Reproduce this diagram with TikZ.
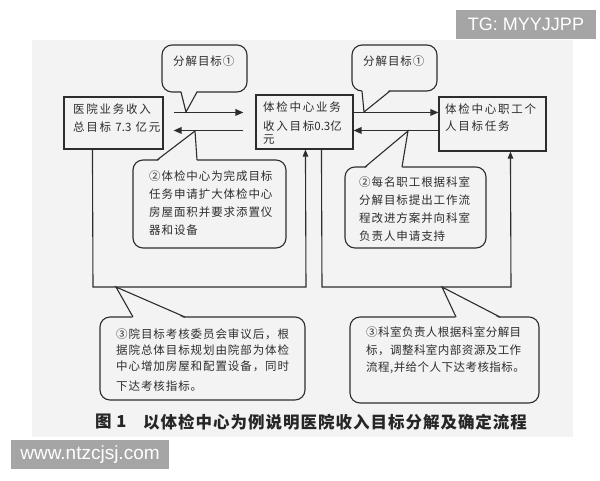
\documentclass[tikz,border=0pt]{standalone}
\usepackage{fontspec}
\newfontfamily\cjk[LetterSpace=8]{Noto Sans CJK SC}
\newfontfamily\cjkn[LetterSpace=4]{Noto Sans CJK SC}
\newfontfamily\cjkw[LetterSpace=15]{Noto Sans CJK SC}
\newfontfamily\cjkplain{Noto Sans CJK SC}
\newfontfamily\cjkcap[LetterSpace=6]{Noto Sans CJK SC}
\newfontfamily\wmfont{Liberation Sans}
\usetikzlibrary{arrows.meta}
\definecolor{paper}{RGB}{243,243,243}
\definecolor{ink}{RGB}{45,45,45}
\definecolor{wmgrey}{RGB}{165,165,165}
\begin{document}
\begin{tikzpicture}[x=1pt,y=-1pt,
  box/.style={draw=ink,line width=1.1pt,fill=paper,inner sep=0pt,rectangle},
  bubble/.style={draw=ink,line width=1.1pt,fill=paper,inner sep=0pt,rectangle,rounded corners=10pt},
  flow/.style={draw=ink,line width=1.6pt,-{Triangle[length=8pt,width=6.5pt]}},
  loopline/.style={draw=ink,line width=1.1pt,-{Triangle[length=7pt,width=5.5pt]}},
  tail/.style={draw=ink,line width=1.1pt},
  txt/.style={text=ink,align=left,anchor=north west,inner sep=0pt},
  wm/.style={fill=wmgrey,text=white,inner sep=0pt,font=\wmfont\fontsize{18}{20}\selectfont}
]
\useasboundingbox (0,0) rectangle (600,480);
\fill[white] (0,0) rectangle (600,480);
\fill[paper] (32,40) rectangle (573,437);

% main boxes
\node[box, minimum width=99pt, minimum height=52pt] (A) at (113.5,123) {};
\node[box, minimum width=97pt, minimum height=54pt] (B) at (304.5,122) {};
\node[box, minimum width=107pt, minimum height=54pt] (C) at (492.5,124) {};
\node[txt, font=\cjkw\fontsize{11.5}{18}\selectfont] (At) at (73,104) {医院业务收入\\总目标 {\cjkplain 7.3} 亿元};
\node[txt, font=\cjkw\fontsize{11.5}{19}\selectfont] (Bt) at (263,102) {体检中心业务\\收入目标{\cjkplain 0.3}亿\\[-6pt]元};
\node[txt, font=\cjkw\fontsize{11.5}{17}\selectfont] (Ct) at (445,104) {体检中心职工个\\人目标任务};

% callouts
\node[bubble, minimum width=85pt, minimum height=47pt] (c1L) at (204.5,68.5) {};
\node[bubble, minimum width=85pt, minimum height=46pt] (c1R) at (394.5,68) {};
\node[bubble, minimum width=153pt, minimum height=88pt] (c2L) at (209.5,204) {};
\node[bubble, minimum width=141pt, minimum height=81pt] (c2R) at (415.5,207.5) {};
\node[bubble, minimum width=205pt, minimum height=83pt] (c3L) at (202.5,358.5) {};
\node[bubble, minimum width=189pt, minimum height=86pt] (c3R) at (444.5,360) {};

% pointers
\coordinate (t1L) at (186,112);
\fill[paper] (181,90.4) -- (t1L) -- (197,90.4) -- cycle;
\draw[tail] (181,92) -- (t1L) -- (197,92);
\coordinate (t1R) at (364,112);
\fill[paper] (362,89.4) -- (t1R) -- (390,89.4) -- cycle;
\draw[tail] (362,91) -- (t1R) -- (390,91);
\coordinate (t2L) at (195,131);
\fill[paper] (157,161.6) -- (t2L) -- (197,161.6) -- cycle;
\draw[tail] (157,160) -- (t2L) -- (197,160);
\coordinate (t2R) at (408,131);
\fill[paper] (365,168.6) -- (t2R) -- (402,168.6) -- cycle;
\draw[tail] (365,167) -- (t2R) -- (402,167);
\coordinate (t3L) at (116,287);
\fill[paper] (133,318.6) -- (t3L) -- (185,318.6) -- cycle;
\draw[tail] (133,317) -- (t3L) -- (185,317);
\coordinate (t3R) at (442,287);
\fill[paper] (456,318.6) -- (t3R) -- (500,318.6) -- cycle;
\draw[tail] (456,317) -- (t3R) -- (500,317);

% callout texts
\node[txt, anchor=west, font=\cjk\fontsize{11.5}{14}\selectfont] (c1Lt) at (173,61) {分解目标①};
\node[txt, anchor=west, font=\cjk\fontsize{11.5}{14}\selectfont] (c1Rt) at (363,61) {分解目标①};
\node[txt, font=\cjk\fontsize{11.5}{17.7}\selectfont] (c2Lt) at (149,171) {②体检中心为完成目标\\任务申请扩大体检中心\\房屋面积并要求添置仪\\器和设备};
\node[txt, font=\cjk\fontsize{11.5}{18}\selectfont] (c2Rt) at (359,177) {②每名职工根据科室\\分解目标提出工作流\\程改进方案并向科室\\负责人申请支持};
\node[txt, font=\cjk\fontsize{11.5}{16}\selectfont] (c3Lt) at (116,329) {③院目标考核委员会审议后，根\\据院总体目标规划由院部为体检\\中心增加房屋和配置设备，同时\\[4pt]下达考核指标。};
\node[txt, font=\cjkn\fontsize{11.5}{17.5}\selectfont] (c3Rt) at (366,327) {③科室负责人根据科室分解目\\标，调整科室内部资源及工作\\流程,并给个人下达考核指标。};

% horizontal flows
\draw[flow] ([shift={(10,16)}]A.north east) -- ([shift={(-12,18)}]B.north west);
\draw[flow] ([shift={(-12,36)}]B.north west) -- ([shift={(10,34)}]A.north east);
\draw[flow] ([shift={(0,18)}]B.north east) -- ([shift={(0,16)}]C.north west);
\draw[flow] ([shift={(0,34)}]C.north west) -- ([shift={(0,36)}]B.north east);

% loops
\coordinate (L1) at (93,287);
\coordinate (L2) at (306,287);
\draw[loopline] ([xshift=29pt]A.south west) -- (L1) -- (L2) -- ([xshift=50pt]B.south west);
\coordinate (R1) at (322,287);
\coordinate (R2) at (511,287);
\draw[loopline] ([xshift=66pt]B.south west) -- (R1) -- (R2) -- ([xshift=72pt]C.south west);

% caption
\node[txt, anchor=west, text=black!85, font=\cjkcap\bfseries\fontsize{16.5}{18}\selectfont] (fig) at (95,422) {图 1};
\node[txt, anchor=west, text=black!85, font=\cjkcap\bfseries\fontsize{16.5}{18}\selectfont] (title) at (143,422) {以体检中心为例说明医院收入目标分解及确定流程};

% watermarks
\node[wm, minimum width=140pt, minimum height=29pt] (tg) at (526,24.5) {TG: MYYJJPP};
\node[wm, minimum width=158pt, minimum height=29pt, font=\wmfont\fontsize{19}{21}\selectfont] (www) at (90,454.5) {www.ntzcjsj.com};
\end{tikzpicture}
\end{document}
